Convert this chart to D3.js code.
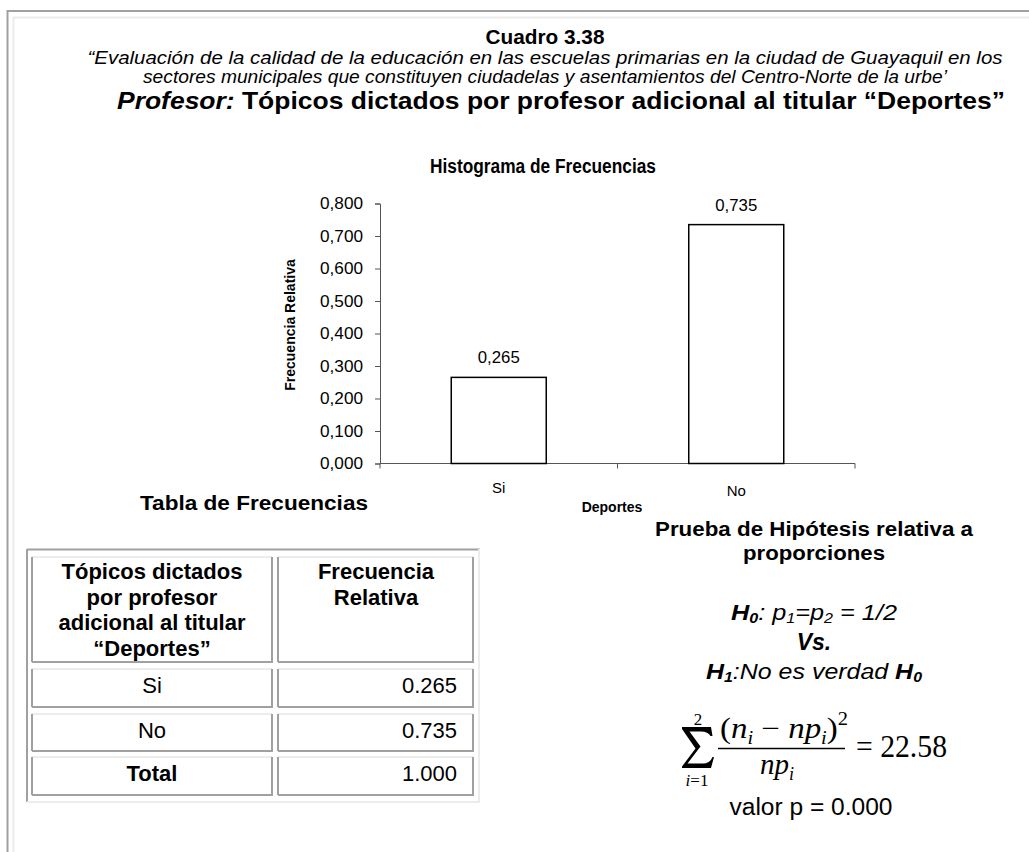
<!DOCTYPE html>
<html>
<head>
<meta charset="utf-8">
<script src="https://cdn.jsdelivr.net/npm/d3@7/dist/d3.min.js"></script>
<style>
  html, body { margin: 0; padding: 0; background: #fff; }
  svg { display: block; }
  text { font-family: "Liberation Sans", Arial, sans-serif; fill: #000; }
  .serif { font-family: "Liberation Serif", "Times New Roman", serif; }
</style>
</head>
<body>
<svg id="chart" width="1029" height="852"></svg>
<script>
// ---------------- data ----------------
const categories = ["Si", "No"];
const values = [0.265, 0.735];
const valueLabels = ["0,265", "0,735"];
const yTicks = [0, 0.1, 0.2, 0.3, 0.4, 0.5, 0.6, 0.7, 0.8];
const tableHeader = [["Tópicos dictados", "por profesor", "adicional al titular", "“Deportes”"], ["Frecuencia", "Relativa"]];
const tableCats = ["Si", "No", "Total"];
const tableVals = ["0.265", "0.735", "1.000"];

const svg = d3.select("#chart");

// ---------------- page frame ----------------
svg.append("line").attr("x1", 7.5).attr("x2", 7.5).attr("y1", 10).attr("y2", 852).attr("stroke", "#a0a0a0").attr("stroke-width", 2);
svg.append("line").attr("x1", 7).attr("x2", 1029).attr("y1", 11).attr("y2", 11).attr("stroke", "#a0a0a0").attr("stroke-width", 2);
svg.append("line").attr("x1", 13.5).attr("x2", 13.5).attr("y1", 17).attr("y2", 852).attr("stroke", "#ececec").attr("stroke-width", 2);
svg.append("line").attr("x1", 13).attr("x2", 1029).attr("y1", 17.5).attr("y2", 17.5).attr("stroke", "#ececec").attr("stroke-width", 2);

// ---------------- header ----------------
svg.append("text").attr("x", 545).attr("y", 44).attr("text-anchor", "middle")
  .style("font-size", "21px").style("font-weight", "bold")
  .attr("textLength", 119).attr("lengthAdjust", "spacingAndGlyphs").text("Cuadro 3.38");
svg.append("text").attr("x", 545).attr("y", 64).attr("text-anchor", "middle")
  .style("font-size", "18px").style("font-style", "italic")
  .attr("textLength", 915).attr("lengthAdjust", "spacingAndGlyphs")
  .text("“Evaluación de la calidad de la educación en las escuelas primarias en la ciudad de Guayaquil en los");
svg.append("text").attr("x", 545).attr("y", 83).attr("text-anchor", "middle")
  .style("font-size", "18px").style("font-style", "italic")
  .attr("textLength", 804).attr("lengthAdjust", "spacingAndGlyphs")
  .text("sectores municipales que constituyen ciudadelas y  asentamientos del Centro-Norte de la urbe’");
const t3 = svg.append("text").attr("x", 561).attr("y", 109).attr("text-anchor", "middle")
  .style("font-size", "24px").style("font-weight", "bold")
  .attr("textLength", 888).attr("lengthAdjust", "spacingAndGlyphs");
t3.append("tspan").style("font-style", "italic").text("Profesor:");
t3.append("tspan").text("  Tópicos dictados por profesor adicional al titular “Deportes”");

// ---------------- histogram ----------------
const x = d3.scaleBand().domain(categories).range([380, 855]).paddingInner(0.6).paddingOuter(0.3);
const y = d3.scaleLinear().domain([0, 0.8]).range([463.5, 203.5]);
const fmt = d => d3.format(".3f")(d).replace(".", ",");

svg.append("text").attr("x", 543).attr("y", 173).attr("text-anchor", "middle")
  .style("font-size", "20px").style("font-weight", "bold")
  .attr("textLength", 226).attr("lengthAdjust", "spacingAndGlyphs")
  .text("Histograma de Frecuencias");

const yAxis = svg.append("g").attr("transform", "translate(380,0)")
  .call(d3.axisLeft(y).tickValues(yTicks).tickFormat(fmt).tickSize(5).tickPadding(12));
yAxis.select(".domain").attr("stroke", "#555");
yAxis.selectAll(".tick line").attr("stroke", "#555");
yAxis.selectAll(".tick text").style("font-size", "16.5px").style("font-family", "'Liberation Sans', Arial, sans-serif")
  .attr("textLength", 43).attr("lengthAdjust", "spacingAndGlyphs");

// x axis line + boundary ticks
const step = x.step();
const bounds = [x(categories[0]) + x.bandwidth() / 2 - step / 2]
  .concat(categories.map(c => x(c) + x.bandwidth() / 2 + step / 2));
svg.append("line").attr("x1", bounds[0]).attr("x2", bounds[bounds.length - 1])
  .attr("y1", y(0)).attr("y2", y(0)).attr("stroke", "#555");
svg.selectAll(".xt").data(bounds).enter().append("line")
  .attr("x1", d => d).attr("x2", d => d).attr("y1", y(0)).attr("y2", y(0) + 5).attr("stroke", "#555");
svg.selectAll(".xl").data(categories).enter().append("text")
  .attr("x", d => x(d) + x.bandwidth() / 2).attr("y", (d, i) => 493 + i * 3).attr("text-anchor", "middle")
  .style("font-size", "15px").text(d => d);

// bars
svg.selectAll(".bar").data(values).enter().append("rect")
  .attr("x", (d, i) => x(categories[i]))
  .attr("y", d => y(d))
  .attr("width", x.bandwidth())
  .attr("height", d => y(0) - y(d))
  .attr("fill", "#fff").attr("stroke", "#000").attr("stroke-width", 1.5);
svg.selectAll(".vl").data(values).enter().append("text")
  .attr("x", (d, i) => x(categories[i]) + x.bandwidth() / 2)
  .attr("y", d => y(d) - 14).attr("text-anchor", "middle")
  .style("font-size", "16.5px")
  .attr("textLength", 42).attr("lengthAdjust", "spacingAndGlyphs")
  .text((d, i) => valueLabels[i]);

svg.append("text").attr("x", 612).attr("y", 512).attr("text-anchor", "middle")
  .style("font-size", "14px").style("font-weight", "bold").text("Deportes");
svg.append("text").attr("transform", "translate(295,325) rotate(-90)").attr("text-anchor", "middle")
  .style("font-size", "14px").style("font-weight", "bold").text("Frecuencia Relativa");

// ---------------- table ----------------
svg.append("text").attr("x", 254).attr("y", 510).attr("text-anchor", "middle")
  .style("font-size", "20px").style("font-weight", "bold")
  .attr("textLength", 228).attr("lengthAdjust", "spacingAndGlyphs")
  .text("Tabla de Frecuencias");

// table outer borders
svg.append("line").attr("x1", 27).attr("x2", 480).attr("y1", 549.5).attr("y2", 549.5).attr("stroke", "#a0a0a0").attr("stroke-width", 2);
svg.append("line").attr("x1", 27).attr("x2", 27).attr("y1", 549).attr("y2", 802).attr("stroke", "#a0a0a0").attr("stroke-width", 2);
svg.append("line").attr("x1", 27).attr("x2", 480).attr("y1", 802).attr("y2", 802).attr("stroke", "#ececec").attr("stroke-width", 2);
svg.append("line").attr("x1", 479).attr("x2", 479).attr("y1", 549).attr("y2", 802).attr("stroke", "#ececec").attr("stroke-width", 2);

const cols = [[32, 272], [278, 473]];
const rows = [[557, 662], [669, 707], [714, 751], [757, 795]];
function cell(x0, x1, y0, y1) {
  svg.append("line").attr("x1", x0).attr("x2", x1).attr("y1", y0).attr("y2", y0).attr("stroke", "#ececec").attr("stroke-width", 2);
  svg.append("line").attr("x1", x0).attr("x2", x0).attr("y1", y0).attr("y2", y1).attr("stroke", "#a0a0a0").attr("stroke-width", 2);
  svg.append("line").attr("x1", x1).attr("x2", x1).attr("y1", y0).attr("y2", y1).attr("stroke", "#a0a0a0").attr("stroke-width", 2);
  svg.append("line").attr("x1", x0).attr("x2", x1 + 1).attr("y1", y1).attr("y2", y1).attr("stroke", "#a0a0a0").attr("stroke-width", 2);
}
rows.forEach(r => cols.forEach(c => cell(c[0], c[1], r[0], r[1])));

tableHeader[0].forEach((t, i) => svg.append("text").attr("x", 152).attr("y", 579 + i * 25.5)
  .attr("text-anchor", "middle").style("font-size", "22px").style("font-weight", "bold").text(t));
tableHeader[1].forEach((t, i) => svg.append("text").attr("x", 376).attr("y", 579 + i * 25.5)
  .attr("text-anchor", "middle").style("font-size", "22px").style("font-weight", "bold").text(t));
tableCats.forEach((t, i) => {
  const cy = (rows[i + 1][0] + rows[i + 1][1]) / 2;
  svg.append("text").attr("x", 152).attr("y", cy + 5).attr("text-anchor", "middle")
    .style("font-size", "22px").style("font-weight", t === "Total" ? "bold" : "normal").text(t);
  svg.append("text").attr("x", 457).attr("y", cy + 5).attr("text-anchor", "end")
    .style("font-size", "22px").text(tableVals[i]);
});

// ---------------- hypothesis test ----------------
const hx = 814;
svg.append("text").attr("x", hx).attr("y", 536).attr("text-anchor", "middle")
  .style("font-size", "20px").style("font-weight", "bold")
  .attr("textLength", 318).attr("lengthAdjust", "spacingAndGlyphs")
  .text("Prueba de Hipótesis relativa a");
svg.append("text").attr("x", hx).attr("y", 560).attr("text-anchor", "middle")
  .style("font-size", "20px").style("font-weight", "bold")
  .attr("textLength", 142).attr("lengthAdjust", "spacingAndGlyphs").text("proporciones");

const h0 = svg.append("text").attr("x", hx).attr("y", 620).attr("text-anchor", "middle")
  .style("font-size", "22px").style("font-style", "italic")
  .attr("textLength", 166).attr("lengthAdjust", "spacingAndGlyphs");
h0.append("tspan").style("font-weight", "bold").text("H");
h0.append("tspan").style("font-weight", "bold").style("font-size", "14px").attr("dy", 3).text("0");
h0.append("tspan").attr("dy", -3).text(":  p");
h0.append("tspan").style("font-size", "14px").attr("dy", 3).text("1");
h0.append("tspan").attr("dy", -3).text("=p");
h0.append("tspan").style("font-size", "14px").attr("dy", 3).text("2");
h0.append("tspan").attr("dy", -3).text(" = 1/2");

svg.append("text").attr("x", hx).attr("y", 650).attr("text-anchor", "middle")
  .style("font-size", "23px").style("font-style", "italic").style("font-weight", "bold").text("Vs.");

const h1 = svg.append("text").attr("x", hx).attr("y", 679).attr("text-anchor", "middle")
  .style("font-size", "22px").style("font-style", "italic")
  .attr("textLength", 216).attr("lengthAdjust", "spacingAndGlyphs");
h1.append("tspan").style("font-weight", "bold").text("H");
h1.append("tspan").style("font-weight", "bold").style("font-size", "14px").attr("dy", 3).text("1");
h1.append("tspan").attr("dy", -3).text(":No es verdad ");
h1.append("tspan").style("font-weight", "bold").text("H");
h1.append("tspan").style("font-weight", "bold").style("font-size", "14px").attr("dy", 3).text("0");

// formula
const f = svg.append("g").attr("class", "formula");
// summation sign drawn as a glyph-like path
f.append("path")
  .attr("d", "M682,727 L711,727 L712.5,736 L710.5,736 Q708,731.5 701,731.5 L689.5,731.5 L700.5,746.5 L687.5,763.5 L703,763.5 Q710,763.5 712.5,757 L714,757 L711,768 L682,768 L682,766.5 L695.5,748.5 L682,729 Z")
  .attr("fill", "#000");
f.append("text").attr("class", "serif").attr("x", 698).attr("y", 725).attr("text-anchor", "middle")
  .style("font-size", "17px").text("2");
const lim = f.append("text").attr("class", "serif").attr("x", 697).attr("y", 786).attr("text-anchor", "middle")
  .style("font-size", "17px");
lim.append("tspan").style("font-style", "italic").text("i");
lim.append("tspan").text("=1");

const num = f.append("text").attr("class", "serif").attr("x", 720).attr("y", 738)
  .style("font-size", "29px").attr("textLength", 128).attr("lengthAdjust", "spacingAndGlyphs");
num.append("tspan").text("(");
num.append("tspan").style("font-style", "italic").text("n");
num.append("tspan").style("font-style", "italic").style("font-size", "18px").attr("dy", 6).text("i");
num.append("tspan").attr("dy", -6).text(" − ");
num.append("tspan").style("font-style", "italic").text("np");
num.append("tspan").style("font-style", "italic").style("font-size", "18px").attr("dy", 6).text("i");
num.append("tspan").attr("dy", -6).text(")");
num.append("tspan").style("font-size", "18px").attr("dy", -13).text("2");

f.append("line").attr("x1", 718).attr("x2", 845).attr("y1", 748.5).attr("y2", 748.5).attr("stroke", "#000").attr("stroke-width", 1.3);

const den = f.append("text").attr("class", "serif").attr("x", 760).attr("y", 774)
  .style("font-size", "29px");
den.append("tspan").style("font-style", "italic").text("np");
den.append("tspan").style("font-style", "italic").style("font-size", "18px").attr("dy", 6).text("i");

f.append("text").attr("class", "serif").attr("x", 856).attr("y", 757)
  .style("font-size", "31px").attr("textLength", 91).attr("lengthAdjust", "spacingAndGlyphs").text("= 22.58");

svg.append("text").attr("x", 811).attr("y", 815).attr("text-anchor", "middle")
  .style("font-size", "23px").attr("textLength", 163).attr("lengthAdjust", "spacingAndGlyphs")
  .text("valor p = 0.000");
</script>
</body>
</html>
